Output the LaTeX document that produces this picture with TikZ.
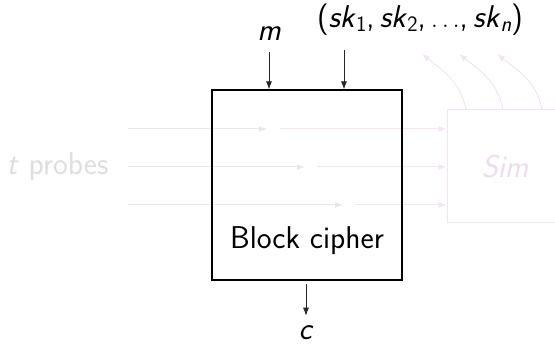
\documentclass[tikz,border=0pt]{standalone}
\usetikzlibrary{arrows.meta}
\renewcommand{\familydefault}{\sfdefault}
\definecolor{probegray}{RGB}{232,232,232}
\definecolor{simpink}{RGB}{242,228,242}
\definecolor{simtext}{RGB}{238,220,238}
\definecolor{probetext}{RGB}{222,222,222}
% sans-serif italic index, set like a math subscript
\newcommand{\idx}[1]{\raisebox{-0.3ex}{\fontsize{22}{22}\selectfont #1}}
\begin{document}
\begin{tikzpicture}[x=1pt,y=1pt,
  font=\fontsize{31.5}{36}\selectfont,
  tip/.style={-{Latex[length=8pt,width=6pt]}},
  wire/.style={tip,line width=0.8pt,black!85},
  probe/.style={tip,line width=1pt,probegray},
  simwire/.style={tip,line width=1pt,simpink},
  label/.style={inner sep=0pt}]
\clip (0,0) rectangle (555,345);
\useasboundingbox (0,0) rectangle (555,345);

% simulator side (faded)
\node[draw=simpink,line width=1pt,minimum width=130pt,minimum height=113pt,inner sep=0pt] (sim) at (512,178.5) {};
\node[label,text=simtext] (simlabel) at (505,178) {\textit{Sim}};

% probe sources and end points
\node[label,text=probetext] (probes) at (57.5,178) {\textit{t} probes};
\coordinate (pa) at (128,216);
\coordinate (pb) at (128,178);
\coordinate (pc) at (128,140);
\coordinate (ga) at (267,216);
\coordinate (gb) at (305,178);
\coordinate (gc) at (343,140);
\coordinate (ra) at (280,216);
\coordinate (rb) at (317,178);
\coordinate (rc) at (355,140);

\draw[probe] (pa) -- (ga);
\draw[probe] (pb) -- (gb);
\draw[probe] (pc) -- (gc);
\draw[simwire] (ra) -- (ra -| sim.west);
\draw[simwire] (rb) -- (rb -| sim.west);
\draw[simwire] (rc) -- (rc -| sim.west);

% leakage fed back out of the simulator
\coordinate (oa) at (422,291);
\coordinate (ob) at (459,291);
\coordinate (oc) at (497,291);
\draw[simwire] (466,235) to[out=100,in=-38] (oa);
\draw[simwire] (503,235) to[out=100,in=-38] (ob);
\draw[simwire] (542,235) to[out=100,in=-38] (oc);

% block cipher
\node[draw,line width=1.2pt,minimum width=190pt,minimum height=190pt,inner sep=0pt] (bc) at (307,160) {};
\node[label] (bclabel) at (307,104) {Block cipher};

\node[label] (m) at (269,311) {\textit{m}};
\node[label] (keys) at (420,325) {(\textit{sk}\idx{1},\,\textit{sk}\idx{2},\,$\ldots$,\,\textit{sk}\idx{\textit{n}})};
\node[label] (c) at (306,12) {\textit{c}};

\draw[wire] (m.south |- 0,293) -- (m.south |- bc.north);
\draw[wire] (344,295) -- (344,0 |- bc.north);
\draw[wire,shorten >=10pt] (c.north |- bc.south) ++(0,-3) -- (c.north);
\end{tikzpicture}
\end{document}
